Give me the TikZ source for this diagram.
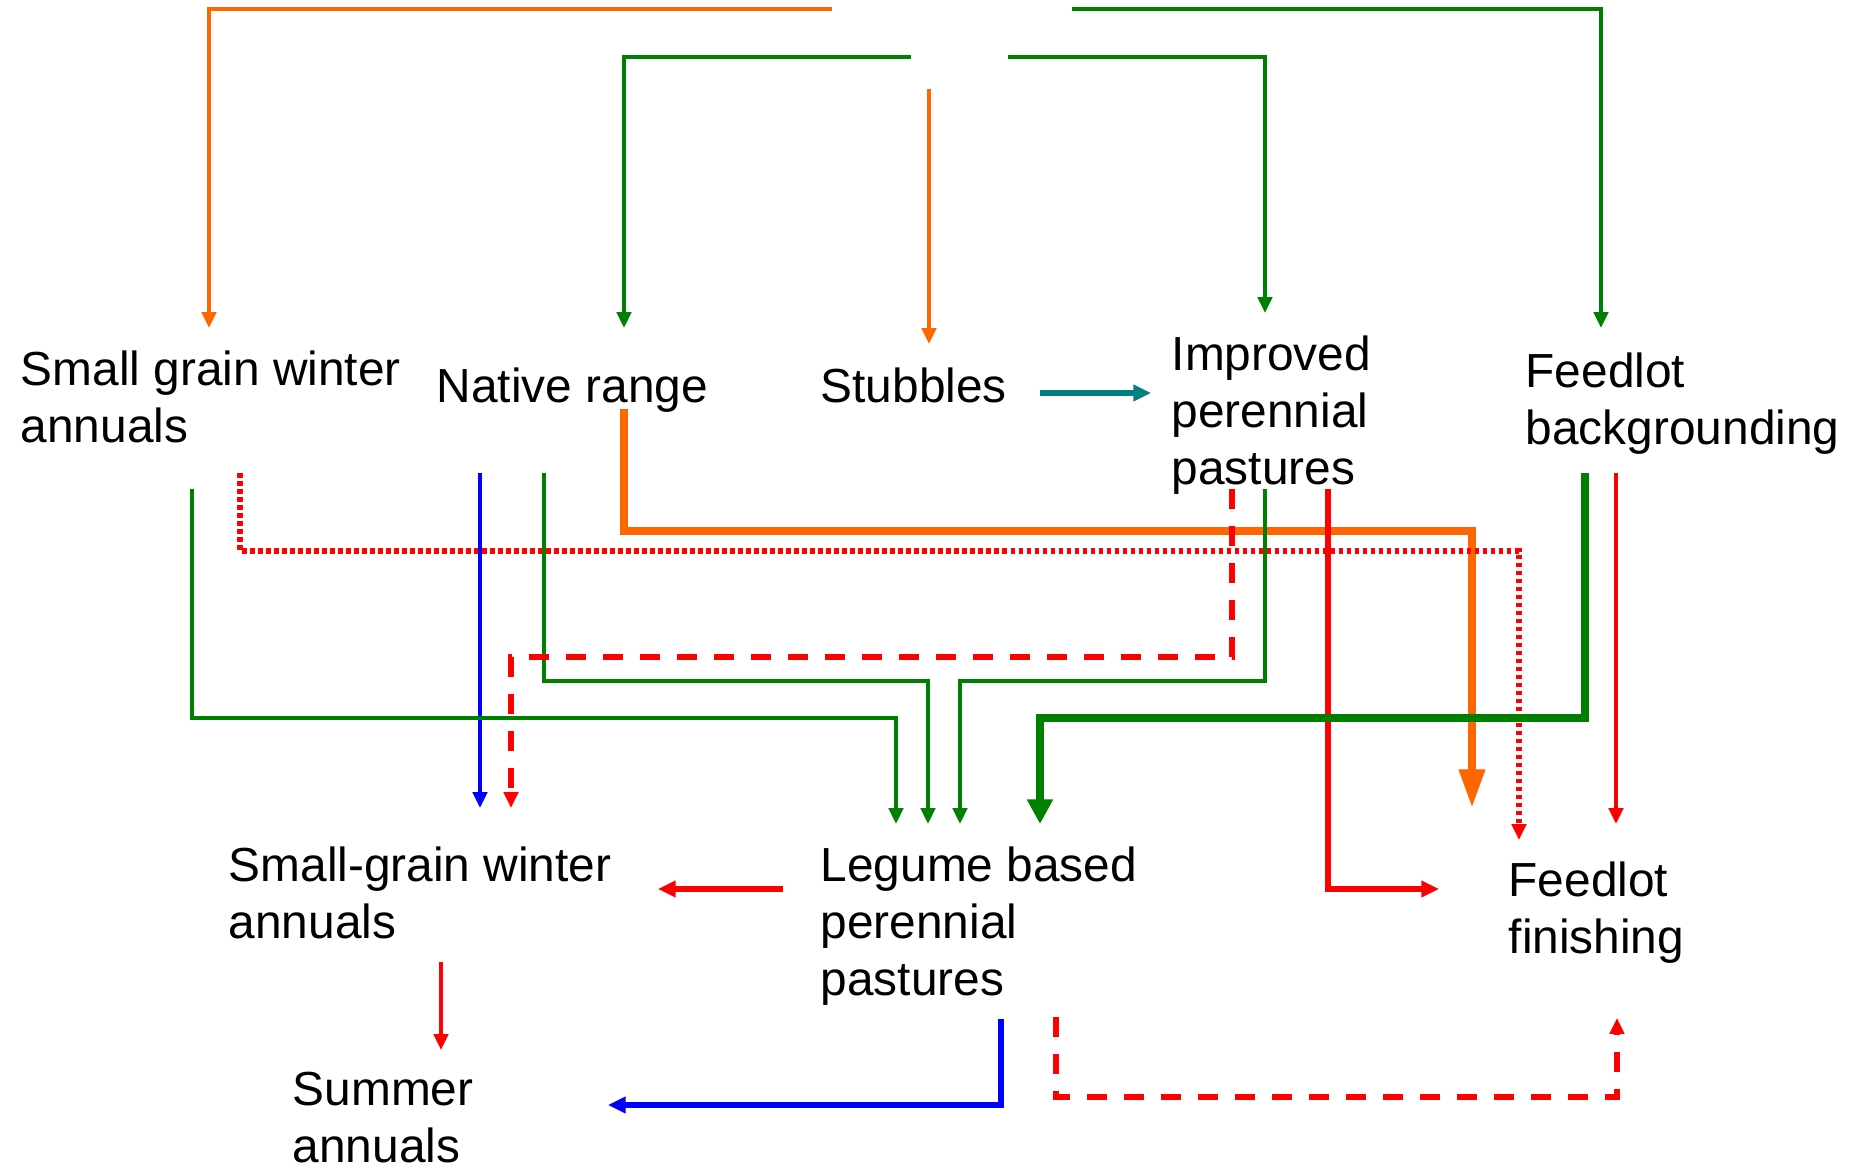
\documentclass[tikz,border=0pt]{standalone}
\usepackage{fontspec}
\setmainfont{Liberation Sans}
\usetikzlibrary{arrows.meta}

\definecolor{floworange}{RGB}{255,102,0}
\definecolor{flowgreen}{RGB}{0,128,0}
\definecolor{flowteal}{RGB}{0,128,128}
\definecolor{flowred}{RGB}{255,0,0}
\definecolor{flowblue}{RGB}{0,0,255}

\begin{document}
\begin{tikzpicture}
        [x=0.01cm, y=-0.01cm,
        every node/.style={inner sep=0pt,align=left,anchor=base west,font=\fontsize{13.6}{16.2}\selectfont},
        link/.style={line width=1.3pt,-{Triangle[length=4.5pt,width=4pt]}},
        boldlink/.style={line width=1.6pt,-{Triangle[length=5pt,width=4.5pt]}},
        heavylink/.style={line width=2.3pt,-{Triangle[length=7pt,width=7pt]}},
        dashlink/.style={link,line width=1.5pt,dash pattern=on 0.2cm off 0.17cm},
        dotlink/.style={link,line width=1.6pt,dash pattern=on 0.045cm off 0.035cm}
        ]
        \useasboundingbox (0,0) rectangle (1859,1169);
        % forage and feeding stages (base = last line)
        \node (grain-top) at (20,442) {Small grain winter\\annuals};
        \node (native) at (436,402) {Native range};
        \node (stubbles) at (820,402) {Stubbles};
        \node (improved) at (1171,484) {Improved\\perennial\\pastures};
        \node (backgr) at (1525,444) {Feedlot\\backgrounding};
        \node (grain-low) at (228,938) {Small-grain winter\\annuals};
        \node (legume) at (820,995) {Legume based\\perennial\\pastures};
        \node (finish) at (1508,953) {Feedlot\\finishing};
        \node (summer) at (292,1162) {Summer\\annuals};
        % connector ends
        \coordinate (c-1a) at (832,9);     \coordinate (c-1b) at (209,328);
        \coordinate (c-2a) at (1072,9);    \coordinate (c-2b) at (1601,328);
        \coordinate (c-3a) at (911,57);    \coordinate (c-3b) at (624,328);
        \coordinate (c-4a) at (1008,57);   \coordinate (c-4b) at (1265,313);
        \coordinate (c-5a) at (929,89);    \coordinate (c-5b) at (929,344);
        \coordinate (c-6a) at (1040,393);  \coordinate (c-6b) at (1151,393);
        \coordinate (c-7a) at (624,409);   \coordinate (c-7b) at (1472,808);
        \coordinate (c-8a) at (240,473);   \coordinate (c-8b) at (1519,840);
        \coordinate (c-9a) at (480,473);   \coordinate (c-9b) at (480,808);
        \coordinate (c-10a) at (544,473);  \coordinate (c-10b) at (928,824);
        \coordinate (c-11a) at (192,489);  \coordinate (c-11b) at (896,824);
        \coordinate (c-12a) at (1232,489); \coordinate (c-12b) at (511,808);
        \coordinate (c-13a) at (1265,489); \coordinate (c-13b) at (960,824);
        \coordinate (c-14a) at (1328,489); \coordinate (c-14b) at (1439,889);
        \coordinate (c-15a) at (1585,473); \coordinate (c-15b) at (1040,824);
        \coordinate (c-16a) at (1616,473); \coordinate (c-16b) at (1616,824);
        \coordinate (c-17a) at (783,889);  \coordinate (c-17b) at (658,889);
        \coordinate (c-18a) at (441,962);  \coordinate (c-18b) at (441,1050);
        \coordinate (c-19a) at (1001,1019);\coordinate (c-19b) at (608,1105);
        \coordinate (c-20a) at (1056,1017);\coordinate (c-20b) at (1617,1018);
        % top feeds
        \draw[link,floworange] (c-1a) -| (c-1b);
        \draw[link,flowgreen] (c-2a) -| (c-2b);
        \draw[link,flowgreen] (c-3a) -| (c-3b);
        \draw[link,flowgreen] (c-4a) -| (c-4b);
        \draw[link,floworange] (c-5a) -- (c-5b);
        \draw[boldlink,flowteal] (c-6a) -- (c-6b);
        % middle band
        \draw[heavylink,floworange,-{Triangle[length=11pt,width=7pt]}] (c-7a) -- (c-7a |- 0,531) -| (c-7b);
        \draw[dotlink,flowred] (c-8a) -- (c-8a |- 0,551) -| (c-8b);
        \draw[link,flowblue] (c-9a) -- (c-9b);
        \draw[link,flowgreen] (c-10a) -- (c-10a |- 0,681) -| (c-10b);
        \draw[link,flowgreen] (c-11a) -- (c-11a |- 0,718) -| (c-11b);
        \draw[dashlink,flowred] (c-12a) -- (c-12a |- 0,657) -| (c-12b);
        \draw[link,flowgreen] (c-13a) -- (c-13a |- 0,681) -| (c-13b);
        \draw[boldlink,flowred] (c-14a) |- (c-14b);
        \draw[heavylink,flowgreen] (c-15a) -- (c-15a |- 0,718) -| (c-15b);
        \draw[link,flowred] (c-16a) -- (c-16b);
        % bottom
        \draw[boldlink,flowred] (c-17a) -- (c-17b);
        \draw[link,flowred] (c-18a) -- (c-18b);
        \draw[boldlink,flowblue] (c-19a) |- (c-19b);
        \draw[dashlink,flowred] (c-20a) -- (c-20a |- 0,1097) -| (c-20b);
\end{tikzpicture}
\end{document}
